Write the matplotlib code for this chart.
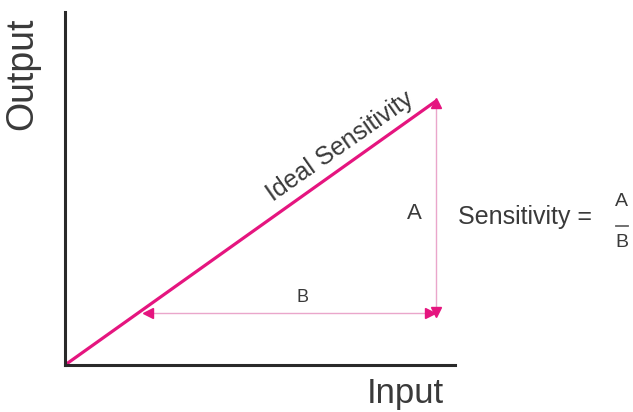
import matplotlib.pyplot as plt

plt.rcParams['font.family'] = ['Liberation Sans', 'DejaVu Sans']

# ideal sensitivity line (input, output)
ideal_x = [0, 9.54]
ideal_y = [0, 7.5]

# "A" span (vertical) and "B" span (horizontal)
a_x = 9.5
a_y = [1.5, 7.42]
b_y = 1.47
b_x = [2.13, 9.36]

pink = '#e5157f'
light_pink = '#eaa6cb'
text_col = '#3a3a3a'

fig = plt.figure(figsize=(6.33, 4.12), dpi=100)
# axes box: left spine at x=65px, bottom spine at y=365px, ends at x=455px
ax = fig.add_axes([65 / 633, 47 / 412, 390 / 633, 353 / 412])
ax.set_xlim(0, 10)
ax.set_ylim(0, 10)

for side in ['top', 'right']:
    ax.spines[side].set_visible(False)
for side in ['left', 'bottom']:
    ax.spines[side].set_linewidth(2.2)
    ax.spines[side].set_color('#2a2a2a')
ax.set_xticks([])
ax.set_yticks([])

ax.plot(ideal_x, ideal_y, color=pink, lw=2.3, solid_capstyle='butt', clip_on=False)

# thin measurement lines
ax.plot([a_x, a_x], a_y, color=light_pink, lw=1.0)
ax.plot(b_x, [b_y, b_y], color=light_pink, lw=1.0)

# arrow heads
ax.plot([b_x[0]], [b_y], marker='<', color=pink, ms=6.5, ls='none')
ax.plot([b_x[1]], [b_y], marker='>', color=pink, ms=6.5, ls='none')
ax.plot([a_x], [a_y[0]], marker='v', color=pink, ms=6.5, ls='none')
ax.plot([a_x], [a_y[1]], marker='^', color=pink, ms=6.5, ls='none')

ax.text(7.05, 6.2, 'Ideal Sensitivity', rotation=35.0, ha='center', va='center',
        fontsize=18, color=text_col, rotation_mode='anchor')
ax.text(8.97, 4.28, 'A', ha='center', va='center', fontsize=16, color=text_col)
ax.text(6.08, 1.9, 'B', ha='center', va='center', fontsize=13, color=text_col)
ax.text(10.08, 4.19, 'Sensitivity =', ha='left', va='center', fontsize=18,
        color=text_col, clip_on=False)
ax.text(14.28, 4.62, 'A', ha='center', va='center', fontsize=14, color=text_col,
        clip_on=False)
ax.plot([14.13, 14.43], [3.94, 3.94], color='#666666', lw=1.3, clip_on=False)
ax.text(14.28, 3.48, 'B', ha='center', va='center', fontsize=14, color=text_col,
        clip_on=False)

fig.text(22 / 633, 1 - 74 / 412, 'Output', rotation=90, ha='center', va='center',
         fontsize=27, color=text_col)
fig.text(405 / 633, 1 - 393 / 412, 'Input', ha='center', va='center',
         fontsize=25, color=text_col)

fig.savefig('out.png', dpi=100)
